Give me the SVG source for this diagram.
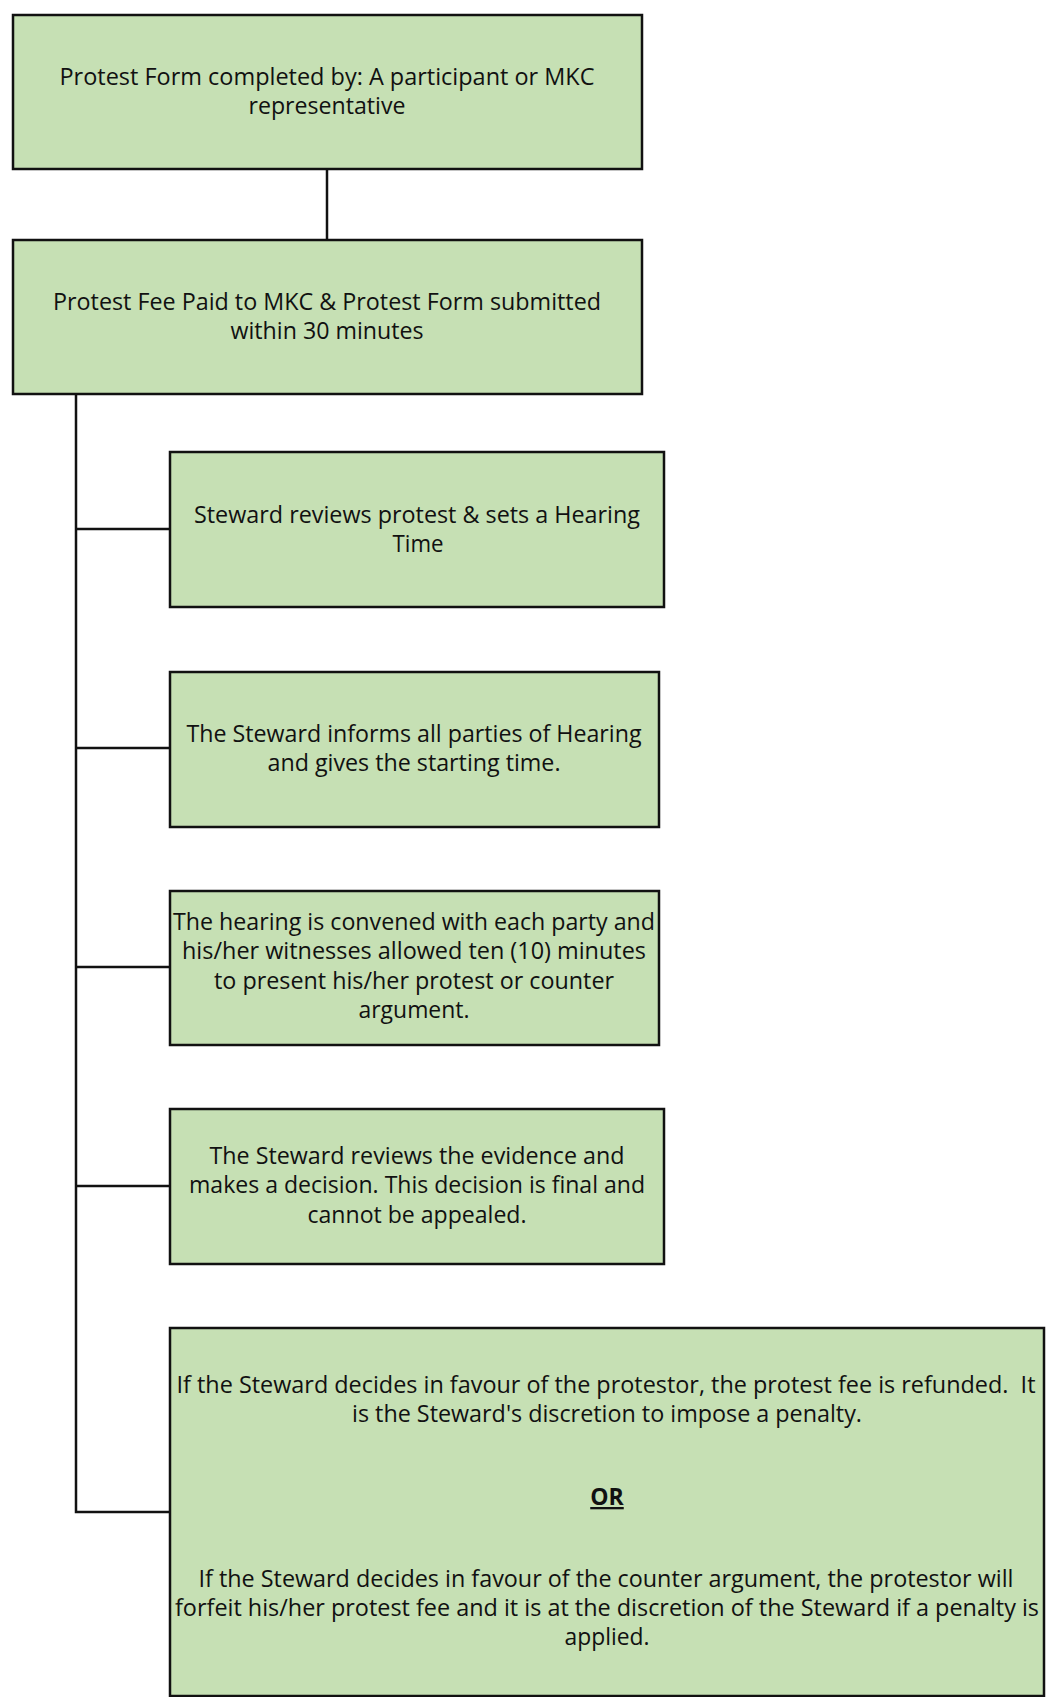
<svg xmlns="http://www.w3.org/2000/svg" width="1049" height="1697" viewBox="0 0 1049 1697">
<style>
.box{fill:#c6e0b4;stroke:#111;stroke-width:2.5}
.con{fill:none;stroke:#111;stroke-width:2.5}
text{font-family:"Open Sans","Liberation Sans",sans-serif;font-size:23px;fill:#111;text-anchor:middle}
.or{font-weight:bold;text-decoration:underline}
</style>
<rect width="1049" height="1697" fill="#fff"/>
<g id="connectors">
<line class="con" x1="327" y1="169" x2="327" y2="240"/>
<polyline class="con" points="76,394 76,1512 170,1512"/>
<line class="con" x1="76" y1="529" x2="170" y2="529"/>
<line class="con" x1="76" y1="748" x2="170" y2="748"/>
<line class="con" x1="76" y1="967" x2="170" y2="967"/>
<line class="con" x1="76" y1="1186" x2="170" y2="1186"/>
</g>
<g id="n1">
<rect class="box" x="13" y="15" width="629" height="154"/>
<text x="327" y="85" textLength="535" lengthAdjust="spacingAndGlyphs">Protest Form completed by: A participant or MKC</text>
<text x="327" y="114" textLength="157" lengthAdjust="spacingAndGlyphs">representative</text>
</g>
<g id="n2">
<rect class="box" x="13" y="240" width="629" height="154"/>
<text x="327" y="310" textLength="548" lengthAdjust="spacingAndGlyphs">Protest Fee Paid to MKC &amp; Protest Form submitted</text>
<text x="327" y="339" textLength="193" lengthAdjust="spacingAndGlyphs">within 30 minutes</text>
</g>
<g id="n3">
<rect class="box" x="170" y="452" width="494" height="155"/>
<text x="417" y="523" textLength="446" lengthAdjust="spacingAndGlyphs">Steward reviews protest &amp; sets a Hearing</text>
<text x="418" y="552" textLength="51" lengthAdjust="spacingAndGlyphs">Time</text>
</g>
<g id="n4">
<rect class="box" x="170" y="672" width="489" height="155"/>
<text x="414" y="742" textLength="455" lengthAdjust="spacingAndGlyphs">The Steward informs all parties of Hearing</text>
<text x="414" y="771" textLength="293" lengthAdjust="spacingAndGlyphs">and gives the starting time.</text>
</g>
<g id="n5">
<rect class="box" x="170" y="891" width="489" height="154"/>
<text x="414" y="930" textLength="482" lengthAdjust="spacingAndGlyphs">The hearing is convened with each party and</text>
<text x="414" y="959" textLength="464" lengthAdjust="spacingAndGlyphs">his/her witnesses allowed ten (10) minutes</text>
<text x="414" y="989" textLength="400" lengthAdjust="spacingAndGlyphs">to present his/her protest or counter</text>
<text x="414" y="1018" textLength="111" lengthAdjust="spacingAndGlyphs">argument.</text>
</g>
<g id="n6">
<rect class="box" x="170" y="1109" width="494" height="155"/>
<text x="417" y="1164" textLength="415" lengthAdjust="spacingAndGlyphs">The Steward reviews the evidence and</text>
<text x="417" y="1193" textLength="456" lengthAdjust="spacingAndGlyphs">makes a decision. This decision is final and</text>
<text x="417" y="1223" textLength="219" lengthAdjust="spacingAndGlyphs">cannot be appealed.</text>
</g>
<g id="n7">
<rect class="box" x="170" y="1328" width="874" height="368"/>
<text x="606" y="1393" textLength="859" lengthAdjust="spacingAndGlyphs">If the Steward decides in favour of the protestor, the protest fee is refunded.&#160; It</text>
<text x="607" y="1422" textLength="510" lengthAdjust="spacingAndGlyphs">is the Steward's discretion to impose a penalty.</text>
<text class="or" x="607" y="1505">OR</text>
<text x="606" y="1587" textLength="815" lengthAdjust="spacingAndGlyphs">If the Steward decides in favour of the counter argument, the protestor will</text>
<text x="607" y="1616" textLength="864" lengthAdjust="spacingAndGlyphs">forfeit his/her protest fee and it is at the discretion of the Steward if a penalty is</text>
<text x="607" y="1645" textLength="85" lengthAdjust="spacingAndGlyphs">applied.</text>
</g>
</svg>
